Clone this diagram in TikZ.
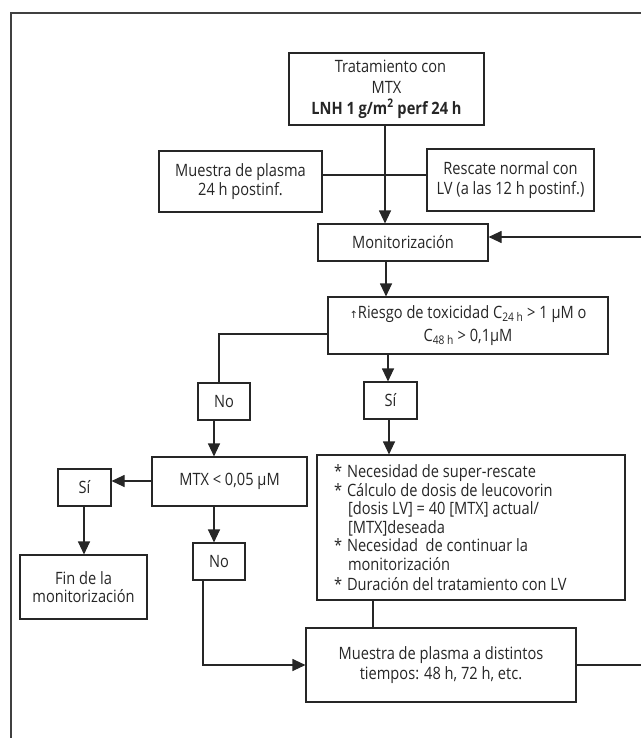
\documentclass[tikz,border=0pt]{standalone}
\usepackage{fontspec}
\setmainfont[FakeStretch=0.86]{Open Sans}
\newfontfamily\symfont{DejaVu Sans}
\usetikzlibrary{arrows.meta,calc}
\begin{document}
\begin{tikzpicture}[x=1pt,y=1pt,
  box/.style={draw=black!85,line width=1.1pt,inner sep=0pt,align=center,
    font=\fontsize{17}{21}\selectfont,text=black!85},
  conn/.style={line width=1.1pt,draw=black!85},
  arr/.style={conn,-{Triangle[length=13pt,width=12pt]}}]
\useasboundingbox (0,0) rectangle (641,-738);
% frame
\draw[line width=1.4pt,draw=black!75] (11,-738) -- (11,-13) -- (641,-13);
% nodes
\node[box,minimum width=195,minimum height=72] (trat) at (386.5,-89)
  {\hspace*{8pt}Tratamiento con\\MTX\\\textbf{LNH 1 g/m\textsuperscript{2} perf 24 h}};
\node[box,minimum width=163,minimum height=61,font=\fontsize{17}{19}\selectfont] (mue) at (240.5,-181.5)
  {Muestra de plasma\\24 h postinf.};
\node[box,minimum width=167,minimum height=62,font=\fontsize{17}{20}\selectfont] (res) at (510.5,-180)
  {Rescate normal con\\LV (a las 12 h postinf.)};
\node[box,minimum width=170,minimum height=37] (mon) at (403,-242.5)
  {Monitorización};
\node[box,minimum width=280,minimum height=57,font=\fontsize{17}{23}\selectfont] (rie) at (468,-325.5)
  {{\symfont\fontsize{10}{10}\selectfont ↑}Riesgo de toxicidad C\textsubscript{24 h} > 1 µM o\\C\textsubscript{48 h} > 0,1µM};
\node[box,minimum width=52,minimum height=37] (no1) at (224,-401.5) {No};
\node[box,minimum width=53,minimum height=37] (si1) at (390.5,-400.5) {Sí};
\node[box,minimum width=155,minimum height=49] (mtx) at (229.5,-481.5)
  {MTX < 0,05 µM};
\node[box,minimum width=308,minimum height=145,align=left,
  font=\fontsize{17}{18.5}\selectfont] (big) at (471,-527.5)
  {\parbox{274pt}{\raggedright
   \makebox[13pt][l]{*}Necesidad de super-rescate\\
   \makebox[13pt][l]{*}Cálculo de dosis de leucovorin\\
   \hspace*{14pt}[dosis LV] = 40 [MTX] actual/\\
   \hspace*{14pt}[MTX]deseada\\
   \makebox[13pt][l]{*}Necesidad\ \ de continuar la\\
   \hspace*{14pt}monitorización\\[1.5pt]
   \makebox[13pt][l]{*}Duración del tratamiento con LV}};
\node[box,minimum width=53,minimum height=37] (si2) at (84.5,-487.5) {Sí};
\node[box,minimum width=127,minimum height=64,font=\fontsize{17}{18.5}\selectfont] (fin) at (83.5,-587)
  {Fin de la\\monitorización};
\node[box,minimum width=52,minimum height=37] (no2) at (219,-561.5) {No};
\node[box,minimum width=270,minimum height=74,font=\fontsize{17}{20}\selectfont] (pla) at (441,-665)
  {Muestra de plasma a distintos\\tiempos: 48 h, 72 h, etc.};
% helper coordinates
\coordinate (v1) at (385,0);
\coordinate (h1) at (0,-175);
\coordinate (fb) at (641,-237);
\coordinate (v2) at (386,0);
\coordinate (k1) at (219,-334);
\coordinate (v3) at (388,0);
\coordinate (v4) at (214,0);
\coordinate (v5) at (389,0);
\coordinate (h2) at (0,-481);
\coordinate (v6) at (84,0);
\coordinate (k2) at (203,-665);
\coordinate (v7) at (373,0);
\coordinate (out) at (641,-665);
% connectors
\draw[conn] (mue.east |- h1) -- (res.west |- h1);
\draw[arr] (trat.south -| v1) -- (mon.north -| v1);
\draw[arr] (fb) -- (mon.east |- fb);
\draw[arr] (mon.south -| v2) -- (rie.north -| v2);
\draw[conn] (rie.west |- k1) -- (k1) -- (no1.north -| k1);
\draw[arr] (rie.south -| v3) -- (si1.north -| v3);
\draw[arr] (no1.south -| v4) -- (mtx.north -| v4);
\draw[arr] (si1.south -| v5) -- (big.north -| v5);
\draw[arr] (mtx.west |- h2) -- (si2.east |- h2);
\draw[arr] (si2.south -| v6) -- (fin.north -| v6);
\draw[arr] (mtx.south -| v4) -- (no2.north -| v4);
\draw[arr] (no2.south -| k2) -- (k2) -- (pla.west |- k2);
\draw[conn] (big.south -| v7) -- (pla.north -| v7);
\draw[conn] (pla.east |- out) -- (out);
\end{tikzpicture}
\end{document}
